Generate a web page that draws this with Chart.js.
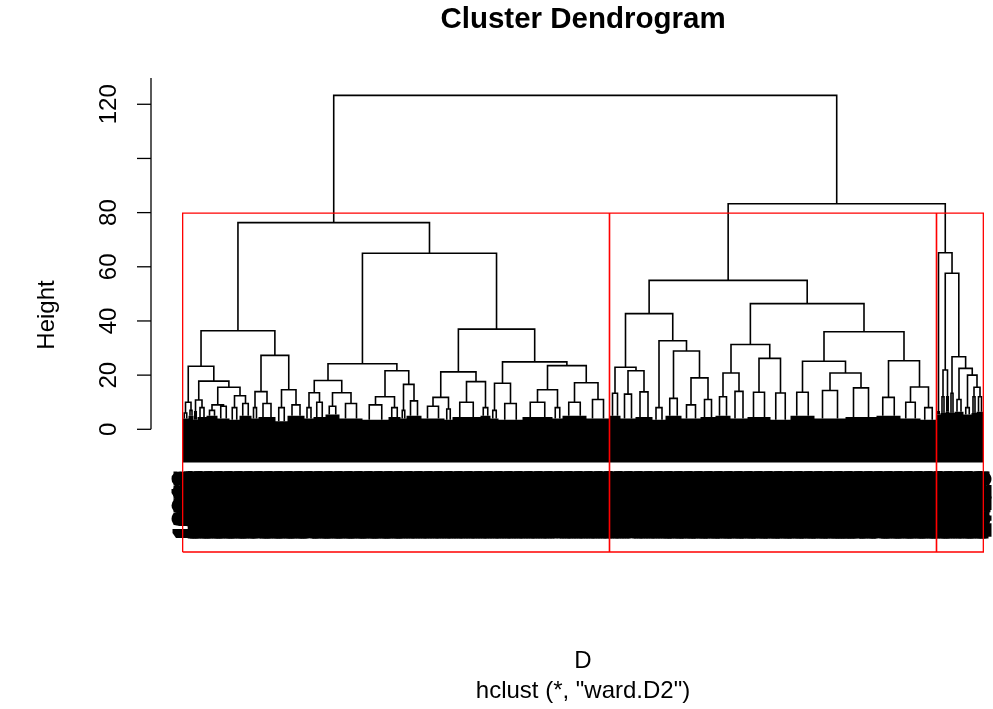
<!DOCTYPE html>
<html>
<head>
<meta charset="utf-8">
<title>Cluster Dendrogram</title>
<script src="https://cdn.jsdelivr.net/npm/chart.js@4.4.1/dist/chart.umd.min.js"></script>
<style>
  html, body { margin: 0; padding: 0; background: #fff; overflow: hidden; }
  canvas { display: block; }
</style>
</head>
<body>
<canvas id="dend" width="993" height="709"></canvas>
<script>
// Terminal groups of the tree, left to right: leaf count, height of their own bracket,
// and the top of the solid black mass of tiny merges below them.
const groupSize = [6, 5, 4, 9, 11, 12, 10, 12, 7, 17, 12, 17, 9, 12, 14, 23, 26, 12, 6, 15,
  23, 8, 28, 10, 8, 24, 30, 10, 24, 23,
  11, 15, 17, 13, 16, 19, 15, 15, 17, 23, 20, 24, 31, 31, 24, 20, 16,
  4, 5, 4, 5, 9, 8, 5, 7];
const groupHeight = [6, 7, 6.5, 8, 7, 8.5, 8, 9.5, 8, 9.5, 8, 9, 8, 10, 8.5, 9.5, 9, 8, 7, 10.5,
  8.5, 7.5, 10, 8, 7, 9.5, 10, 8, 10, 11,
  13.3, 13, 13.8, 8, 11.4, 9, 11, 12, 14, 13.7, 13.4, 13.7, 14.3, 15.3, 11.8, 10, 8,
  6.5, 12, 12, 13.3, 11, 8, 12, 12];
const groupFloor = [4, 5, 3.5, 4.5, 5, 4, 3.5, 5, 4, 4.5, 3, 5, 4, 4.5, 5.5, 4, 3.5, 4.5, 4, 5,
  4, 3.5, 4.5, 5, 4, 3.5, 4.5, 4, 5, 4,
  5, 4, 4.5, 3.5, 5, 4, 4.5, 5, 4, 4.5, 3.5, 5, 4, 4.5, 5, 4, 3.5,
  5.5, 6, 6.5, 6, 6.5, 5.5, 6, 6.5];

// Merges the way hclust stores them: negative = terminal group, positive = earlier merge (1-based)
const mergeLeft = [-1, -3, -5, -7, 3, 2, 1, -9, -11, 8, 7, -13, -15, 12, -17, -19, 15, 14, -21, -23,
  19, -25, -27, -29, 23, 22, 21, 18, 11, -32, -31, -36, -35, -34, 31, -38, -40, 36, -43, -42,
  -46, -45, 40, 38, 35, -49, -54, -53, -52, -51, 46, -48, 45, 29];
const mergeRight = [-2, -4, -6, -8, 4, 5, 6, -10, -12, 9, 10, -14, -16, 13, -18, -20, 16, 17, -22, -24,
  20, -26, -28, -30, 24, 25, 26, 27, 28, -33, 30, -37, 32, 33, 34, -39, -41, 37, -44, 39,
  -47, 41, 42, 43, 44, -50, -55, 47, 48, 49, 50, 51, 52, 53];
const mergeHeight = [10, 10.8, 9, 12.4, 15.5, 17.8, 23.3, 13.9, 14.6, 27.3, 36.4, 13.5, 13.5, 18, 12, 16.6, 21.6, 24.2, 11.8, 17.6,
  21.2, 17, 14.6, 17.2, 23.5, 24.9, 37, 65, 76.3, 21.6, 22.9, 19, 28.9, 32.7, 42.7, 20.8, 26.2, 31.3, 20.8, 25.1,
  15.6, 25.3, 36, 46.4, 55, 21.9, 15.5, 20, 22.5, 26.8, 57.6, 65.2, 83.3, 123.3];

const yTicks = [0, 20, 40, 60, 80, 100, 120];
const yTickLabels = ["0", "20", "40", "60", "80", "", "120"];   // R drops "100", it would overlap

const hang = 12.3;         // leaves hang 0.1 * max height below their merge
const clusterCount = 3;    // rect.hclust(k = 3)
const plotTop = 129.7;     // top of R's plot region
const plotBottom = -45.3;  // bottom of R's plot region (red boxes end there)
const axisBottom = -13.55; // where the leaf label strip starts

// ---- layout of the tree, done the way plot.hclust does it ----
const N = groupSize.reduce((a, b) => a + b, 0);
const groupStart = [];
let acc = 1;
groupSize.forEach(s => { groupStart.push(acc); acc += s; });

const memo = {};
function node(id) {
  if (memo[id]) return memo[id];
  let r;
  if (id < 0) {
    const g = -id - 1;
    const lo = groupStart[g], hi = lo + groupSize[g] - 1;
    r = { x: (lo + hi) / 2, h: groupHeight[g], lo, hi, leaf: true };
  } else {
    const a = node(mergeLeft[id - 1]), b = node(mergeRight[id - 1]);
    r = { x: (a.x + b.x) / 2, h: mergeHeight[id - 1], lo: a.lo, hi: b.hi, leaf: false, a, b };
  }
  memo[id] = r;
  return r;
}

const segs = [];
const gap = { x: null, y: null };
for (let m = 1; m <= mergeHeight.length; m++) {
  const n = node(m);
  segs.push({ x: n.a.x, y: n.a.h }, { x: n.a.x, y: n.h }, { x: n.b.x, y: n.h }, { x: n.b.x, y: n.b.h }, gap);
}
const band = [];
groupSize.forEach((s, g) => {
  const lo = groupStart[g], hi = lo + s - 1;
  const l1 = lo + (s - 1) / 4, l2 = hi - (s - 1) / 4;
  const f = groupFloor[g];
  segs.push({ x: l1, y: f }, { x: l1, y: groupHeight[g] }, { x: l2, y: groupHeight[g] }, { x: l2, y: f }, gap);
  band.push({ x: lo - 0.5, y: f }, { x: hi + 0.5, y: f });
});

// rect.hclust: cut between the (k-1)th and kth highest merge
const sortedH = mergeHeight.slice().sort((a, b) => b - a);
const cut = (sortedH[clusterCount - 2] + sortedH[clusterCount - 1]) / 2;
const clusters = [];
(function walk(n) {
  if (!n.leaf && n.h > cut) { walk(n.a); walk(n.b); } else clusters.push([n.lo, n.hi]);
})(node(mergeHeight.length));
const boxes = [];
clusters.forEach(([lo, hi]) => {
  const x0 = lo - 1 + 0.66, x1 = hi + 0.33;
  boxes.push({ x: x0, y: plotBottom }, { x: x0, y: cut }, { x: x1, y: cut }, { x: x1, y: plotBottom }, { x: x0, y: plotBottom }, gap);
});

const leaves = [];
for (let i = 1; i <= N; i++) leaves.push(i);

// R's x range is 1 -/+ 4%; the window cuts it off a little before its right end
const xMin = 1 - 0.04 * (N - 1);
const xMax = N + 0.0125 * (N - 1);

const FONT = '"Liberation Sans", Arial, sans-serif';

// Texts and the y axis are drawn R-style (rotated tick labels, axis line from 0 to the top)
const rPlot = {
  id: 'rPlot',
  afterDraw(chart) {
    const { ctx, chartArea, scales: { x, y } } = chart;
    const ax = chartArea.left;
    const cx = x.getPixelForValue((1 + N) / 2);
    ctx.save();
    ctx.strokeStyle = '#000';
    ctx.fillStyle = '#000';
    ctx.lineWidth = 1.3;
    ctx.beginPath();
    ctx.moveTo(ax, y.getPixelForValue(0));
    ctx.lineTo(ax, y.getPixelForValue(plotTop));
    ctx.stroke();
    ctx.font = '24px ' + FONT;
    ctx.textAlign = 'center';
    ctx.textBaseline = 'alphabetic';
    yTicks.forEach((v, i) => {
      const py = y.getPixelForValue(v);
      ctx.beginPath();
      ctx.moveTo(ax, py);
      ctx.lineTo(ax - 14, py);
      ctx.stroke();
      if (yTickLabels[i]) {
        ctx.save();
        ctx.translate(ax - 35, py);
        ctx.rotate(-Math.PI / 2);
        ctx.fillText(yTickLabels[i], 0, 0);
        ctx.restore();
      }
    });
    ctx.save();
    ctx.translate(54, y.getPixelForValue((plotTop + plotBottom) / 2));
    ctx.rotate(-Math.PI / 2);
    ctx.fillText('Height', 0, 0);
    ctx.restore();

    ctx.fillText('D', cx, 668);
    ctx.fillText('hclust (*, "ward.D2")', cx, 698);
    ctx.font = 'bold 29.5px ' + FONT;
    ctx.fillText('Cluster Dendrogram', cx, 28);
    ctx.restore();
  }
};

new Chart(document.getElementById('dend'), {
  type: 'scatter',
  data: {
    datasets: [
      { data: boxes, showLine: true, borderColor: '#ff0000', borderWidth: 1.3, pointRadius: 0, spanGaps: false, clip: false },
      { data: segs, showLine: true, borderColor: '#000', borderWidth: 1.6, pointRadius: 0, spanGaps: false },
      { data: band, showLine: true, borderWidth: 0, borderColor: '#000',
        backgroundColor: '#000', pointRadius: 0, fill: { value: -hang } }
    ]
  },
  options: {
    responsive: false,
    animation: false,
    devicePixelRatio: 1,
    layout: { padding: { left: 151, top: 78, right: 0, bottom: 0 } },
    plugins: { legend: { display: false }, tooltip: { enabled: false }, title: { display: false } },
    scales: {
      x: {
        type: 'linear',
        min: xMin,
        max: xMax,
        grid: { display: false, drawTicks: false },
        border: { display: false },
        afterBuildTicks: (scale) => { scale.ticks = leaves.map(v => ({ value: v })); },
        afterFit: (scale) => { scale.height = 243; scale.paddingLeft = 0; scale.paddingRight = 0; },
        ticks: {
          autoSkip: false,
          minRotation: 90,
          maxRotation: 90,
          padding: 6,
          sampleSize: 10,
          color: '#000',
          textStrokeColor: '#000',
          textStrokeWidth: 3,
          font: { family: FONT, size: 24 },
          // the leaf ids are not legible in the source (a solid smear of 4-5 digit numbers);
          // stand-in ids of the same shape, in a scrambled order as dendrogram order gives
          callback: (v) => String(1000 + (v * 7919) % 19000)
        }
      },
      y: {
        type: 'linear',
        display: false,
        min: axisBottom,
        max: plotTop
      }
    }
  },
  plugins: [rPlot]
});
</script>
</body>
</html>
